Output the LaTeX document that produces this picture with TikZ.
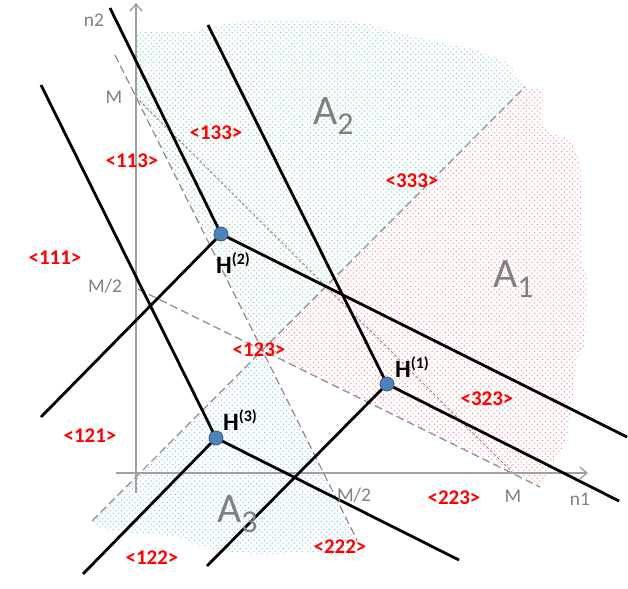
\documentclass[tikz,border=0pt]{standalone}
\usepackage{fontspec}
\setmainfont{Carlito}
\usetikzlibrary{arrows.meta,patterns}
\pgfdeclarepatternformonly{pdots}{\pgfqpoint{-1bp}{-1bp}}{\pgfqpoint{4.4bp}{4.4bp}}{\pgfqpoint{5.4bp}{5.4bp}}{\pgfpathcircle{\pgfpointorigin}{0.6bp}\pgfpathcircle{\pgfqpoint{2.7bp}{2.7bp}}{0.6bp}\pgfusepath{fill}}
\definecolor{gtxt}{RGB}{128,128,128}
\definecolor{axisc}{RGB}{160,160,160}
\definecolor{dashc}{RGB}{140,140,140}
\definecolor{grnd}{RGB}{90,200,150}
\definecolor{pnkd}{RGB}{255,100,110}
\definecolor{cynd}{RGB}{80,190,225}
\definecolor{dotfill}{RGB}{79,129,189}
\definecolor{dotdraw}{RGB}{56,93,138}
\newcommand\hsup[2]{\raisebox{#1}{\fontsize{16}{16}\selectfont #2}}
\newcommand\asub[1]{\raisebox{-10bp}{\fontsize{32}{32}\selectfont #1}}
\begin{document}
\begin{tikzpicture}[x=1bp,y=-1bp,
  blk/.style={line width=2.8bp,black},
  axisline/.style={line width=1.4bp,axisc,-{Straight Barb[length=7bp,width=12bp]}},
  dline/.style={line width=1.2bp,dashc,dash pattern=on 8bp off 4bp},
  fline/.style={line width=0.9bp,dashc,dash pattern=on 3bp off 2bp},
  hdot/.style={circle,fill=dotfill,draw=dotdraw,line width=0.8bp,minimum size=14bp,inner sep=0pt},
  rlab/.style={text=red,font=\bfseries\fontsize{21}{21}\selectfont,inner sep=0pt},
  glab/.style={text=gtxt,font=\fontsize{19.5}{19.5}\selectfont,inner sep=0pt,anchor=base},
  hlab/.style={text=black,font=\bfseries\fontsize{25}{25}\selectfont,inner sep=0pt,anchor=base west},
  alab/.style={text=gtxt,font=\fontsize{42}{42}\selectfont,inner sep=0pt,anchor=base west}]
\useasboundingbox (0,0) rectangle (628,589);
% key points
\coordinate (O) at (136,473);
\coordinate (Mv) at (136,97);
\coordinate (Mh) at (513,473);
\coordinate (d1a) at (92,521);
\coordinate (d1b) at (525,87);
\coordinate (d2a) at (115,55);
\coordinate (d2b) at (357,540);
\coordinate (d3a) at (138,289);
\coordinate (d3b) at (540,487);
\coordinate (P) at (intersection of d1a--d1b and d2a--d2b);
% regions
\fill[pattern=pdots,pattern color=grnd] (Mv) -- (136,30)
  -- plot[smooth] coordinates {(136,30) (170,32) (205,29) (235,22) (300,20) (360,22) (400,33) (440,42) (480,51) (505,62) (525,87)}
  -- (P) -- cycle;
\fill[pattern=pdots,pattern color=pnkd] (d1b)
  -- plot[smooth] coordinates {(525,87) (542,92) (543,127) (568,140) (580,167) (581,260) (587,277) (585,343) (577,360) (573,393) (567,437) (550,470) (540,487)}
  -- (P) -- cycle;
\fill[pattern=pdots,pattern color=cynd] (P) -- (d1a)
  -- plot[smooth] coordinates {(92,521) (100,528) (127,532) (177,537) (203,547) (260,555) (313,552) (350,556) (357,540)}
  -- cycle;
% dashed guide lines
\draw[dline] (d1a) -- (d1b);
\draw[dline] (d2a) -- (d2b);
\draw[dline] (d3a) -- (d3b);
\draw[fline] (Mv) -- (Mh);
% axes
\coordinate (ybot) at (136,493);
\coordinate (ytop) at (136,3);
\coordinate (xleft) at (116,473);
\coordinate (xright) at (588,473);
\draw[axisline] (ybot) -- (ytop);
\draw[axisline] (xleft) -- (xright);
% thick lines
\coordinate (h1) at (387,384);
\coordinate (h2) at (221,234);
\coordinate (h3) at (216,438);
\coordinate (h1t) at (208,25);
\coordinate (h1r) at (619,501);
\coordinate (h1l) at (207,566);
\coordinate (h2t) at (110,8);
\coordinate (h2r) at (627,437);
\coordinate (h2l) at (41,417);
\coordinate (h3t) at (41,85);
\coordinate (h3r) at (459,560);
\coordinate (h3l) at (83,574);
\draw[blk] (h1t) -- (h1) -- (h1r);
\draw[blk] (h1) -- (h1l);
\draw[blk] (h2t) -- (h2) -- (h2r);
\draw[blk] (h2) -- (h2l);
\draw[blk] (h3t) -- (h3) -- (h3r);
\draw[blk] (h3) -- (h3l);
\node[hdot] (H1) at (h1) {};
\node[hdot] (H2) at (h2) {};
\node[hdot] (H3) at (h3) {};
% H labels
\node[hlab] (lH1) at (395,377) {H\hsup{9bp}{(1)}};
\node[hlab] (lH2) at (216,273) {H\hsup{9bp}{(2)}};
\node[hlab] (lH3) at (223,430) {H\hsup{9bp}{(3)}};
% region names
\node[alab] (A2) at (313,125) {A\asub{2}};
\node[alab] (A1) at (493,287) {A\asub{1}};
\node[alab] (A3) at (217,522) {A\asub{3}};
% axis labels
\node[glab] (ln2) at (94,27) {n2};
\node[glab] (lMv) at (114,104) {M};
\node[glab] (lM2v) at (105,292) {M/2};
\node[glab] (lM2h) at (354,501) {M/2};
\node[glab] (lMh) at (513,502) {M};
\node[glab] (ln1) at (580,505) {n1};
% red labels
\node[rlab] (r133) at (216,133) {<133>};
\node[rlab] (r113) at (132,161) {<113>};
\node[rlab] (r111) at (55,258) {<111>};
\node[rlab] (r333) at (412,181) {<333>};
\node[rlab] (r123) at (259,350) {<123>};
\node[rlab] (r323) at (487,399) {<323>};
\node[rlab] (r121) at (90,436) {<121>};
\node[rlab] (r122) at (152,558) {<122>};
\node[rlab] (r222) at (340,547) {<222>};
\node[rlab] (r223) at (454,498) {<223>};
\end{tikzpicture}
\end{document}
